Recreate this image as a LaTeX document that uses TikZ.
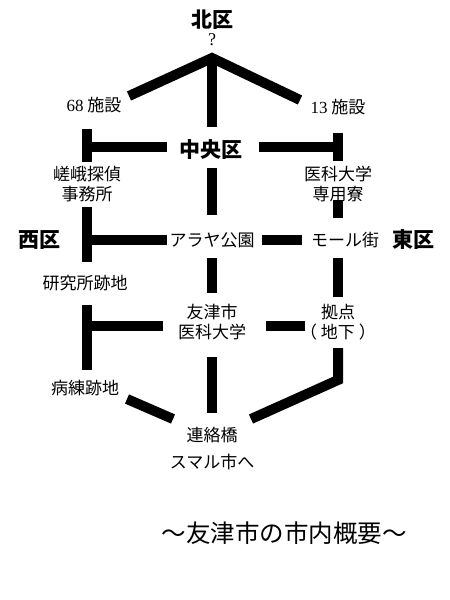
\documentclass[tikz,border=0pt]{standalone}
\usepackage{fontspec}
\newfontfamily\jp{Noto Sans CJK JP}
\newfontfamily\lat{Liberation Serif}
\begin{document}
\begin{tikzpicture}[x=1pt,y=-1pt,
  road/.style={line width=10pt, line cap=butt, line join=miter},
  lbl/.style={font=\jp\fontsize{17}{20}\selectfont, align=center, inner sep=0pt},
  dist/.style={font=\jp\bfseries\fontsize{21}{23}\selectfont, inner sep=0pt},
  qmark/.style={font=\lat\fontsize{18}{20}\selectfont, inner sep=0pt},
  titletext/.style={font=\jp\fontsize{24.5}{26}\selectfont, inner sep=0pt}]
\useasboundingbox (0,0) rectangle (450,600);
% labels
\node[dist] (north) at (212,20) {北区};
\node[qmark] (q) at (212,40) {?};
\node[lbl] (f68) at (94,105) {{\lat 68} 施設};
\node[lbl] (f13) at (338,107) {{\lat 13} 施設};
\node[dist] (central) at (211,150) {中央区};
\node[lbl] (saga) at (87,184) {嵯峨探偵\\事務所};
\node[lbl] (dorm) at (338,184) {医科大学\\専用寮};
\node[dist] (west) at (40,240) {西区};
\node[lbl] (araya) at (212,240) {アラヤ公園};
\node[lbl] (mall) at (345,240) {モール街};
\node[dist] (east) at (413,240) {東区};
\node[lbl] (lab) at (85,283) {研究所跡地};
\node[lbl] (univ) at (212,322) {友津市\\医科大学};
\node[lbl] (base) at (338,322) {拠点\\（\hspace{4pt}地下\hspace{4pt}）};
\node[lbl] (ward) at (85,388) {病練跡地};
\node[lbl] (bridge) at (212,435) {連絡橋};
\node[lbl] (smal) at (212,462) {スマル市へ};
\node[titletext] (title) at (284,533) {～友津市の市内概要～};
% junction coordinates
\coordinate (apex) at (212,58);
\coordinate (apexTop) at (212,55);
\coordinate (n68) at (129,96);
\coordinate (n13) at (300,100);
\coordinate (cTop) at (212,127);
\coordinate (cLeftT) at (87,147);
\coordinate (cLeftE) at (167,147);
\coordinate (capLt) at (87,129);
\coordinate (capLb) at (87,162);
\coordinate (cRightE) at (259,147);
\coordinate (cRightT) at (338,147);
\coordinate (capRt) at (338,133);
\coordinate (capRb) at (338,161);
\coordinate (cBot) at (212,168);
\coordinate (aTop) at (212,215);
\coordinate (wTop) at (87,207);
\coordinate (wBot) at (87,262);
\coordinate (wMid) at (87,240);
\coordinate (aLeft) at (167,240);
\coordinate (dBot) at (338,200);
\coordinate (mTop) at (338,218);
\coordinate (aRight) at (262,240);
\coordinate (mLeft) at (302,240);
\coordinate (mBot) at (338,258);
\coordinate (bTop) at (338,297);
\coordinate (aBot) at (212,258);
\coordinate (uTop) at (212,293);
\coordinate (lBot) at (87,305);
\coordinate (rTop) at (87,370);
\coordinate (lMid) at (87,326);
\coordinate (uLeft) at (163,326);
\coordinate (uRight) at (266,326);
\coordinate (bLeft) at (305,326);
\coordinate (uBot) at (212,357);
\coordinate (brTop) at (212,413);
\coordinate (bBot) at (338,348);
\coordinate (bCorner) at (338,380);
\coordinate (brRight) at (251,419);
\coordinate (rEnd) at (127,399);
\coordinate (brLeft) at (173,419);
% roads
\draw[road] (n68) -- (apex) -- (n13);
\draw[road] (apexTop) -- (cTop);
\draw[road] (cLeftT) -- (cLeftE);
\draw[road] (capLt) -- (capLb);
\draw[road] (cRightE) -- (cRightT);
\draw[road] (capRt) -- (capRb);
\draw[road] (cBot) -- (aTop);
\draw[road] (wTop) -- (wBot);
\draw[road] (wMid) -- (aLeft);
\draw[road] (dBot) -- (mTop);
\draw[road] (aRight) -- (mLeft);
\draw[road] (mBot) -- (bTop);
\draw[road] (aBot) -- (uTop);
\draw[road] (lBot) -- (rTop);
\draw[road] (lMid) -- (uLeft);
\draw[road] (uRight) -- (bLeft);
\draw[road] (uBot) -- (brTop);
\draw[road] (bBot) -- (bCorner) -- (brRight);
\draw[road] (rEnd) -- (brLeft);
\end{tikzpicture}
\end{document}
